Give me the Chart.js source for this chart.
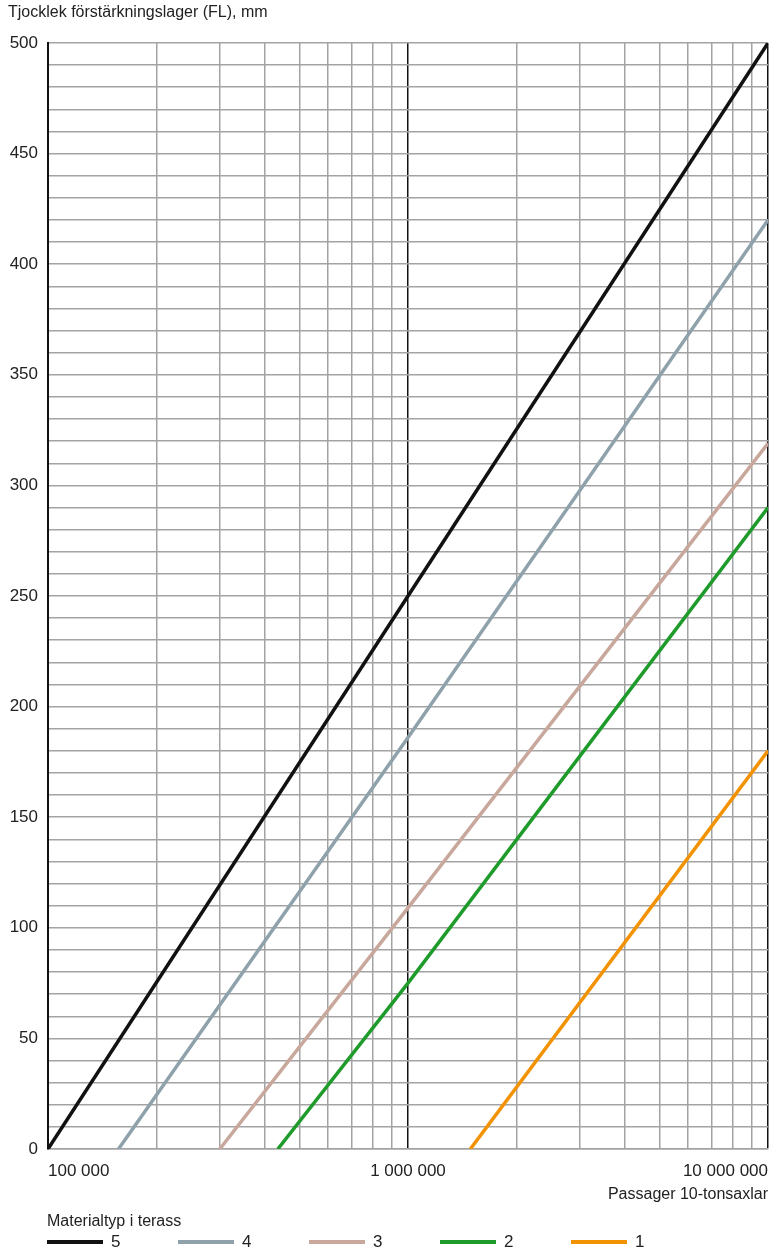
<!DOCTYPE html>
<html>
<head>
<meta charset="utf-8">
<script src="https://cdn.jsdelivr.net/npm/chart.js@4/dist/chart.umd.min.js"></script>
<style>
  body { margin: 0; background: #fff; }
  #wrap { position: relative; width: 784px; height: 1256px; }
  #legend { position: absolute; left: 47px; top: 1212px; font-family: 'Liberation Sans', Arial, sans-serif; font-size: 16px; color: #222; }
  #legend .items { display: flex; margin-top: 2px; font-size: 17px; }
  #legend .item { display: flex; align-items: center; width: 131px; }
  #legend .swatch { width: 56px; height: 4px; margin-right: 8px; }
</style>
</head>
<body>
<div id="wrap">
  <canvas id="lineChart" width="784" height="1256"></canvas>
  <div id="legend"></div>
</div>
<script>
  // material types, legend order
  var seriesNames = ['5', '4', '3', '2', '1'];
  var seriesColors = ['#111111', '#8fa2ac', '#c8a89d', '#1f9b2b', '#f39200'];

  // passages of 10-ton axles (x) and thickness FL in mm (y)
  var type5X = [100000, 1000000, 10000000];
  var type5Y = [0, 250, 500];
  var type4X = [157000, 1000000, 10000000];
  var type4Y = [0, 186, 420];
  var type3X = [300000, 1000000, 10000000];
  var type3Y = [0, 109, 319];
  var type2X = [435000, 1000000, 10000000];
  var type2Y = [0, 75, 290];
  var type1X = [1490000, 10000000];
  var type1Y = [0, 180];

  var xTickValues = [100000, 1000000, 10000000];
  var xTickLabels = ['100 000', '1 000 000', '10 000 000'];

  var fontFamily = "'Liberation Sans', Arial, sans-serif";

  function toPoints(xs, ys) {
    return xs.map(function (x, i) { return { x: x, y: ys[i] }; });
  }

  // grid lines at every 1..9 of each decade
  var xGrid = [];
  for (var d = 100000; d < 10000000; d *= 10) {
    for (var m = 1; m <= 9; m++) xGrid.push(m * d);
  }
  xGrid.push(10000000);

  var allX = [type5X, type4X, type3X, type2X, type1X];
  var allY = [type5Y, type4Y, type3Y, type2Y, type1Y];

  var datasets = seriesNames.map(function (name, i) {
    return {
      label: name,
      data: toPoints(allX[i], allY[i]),
      borderColor: seriesColors[i],
      backgroundColor: seriesColors[i],
      borderWidth: 3.5,
      pointRadius: 0,
      tension: 0,
      fill: false
    };
  });

  // html legend
  var legend = document.getElementById('legend');
  var html = '<div>Materialtyp i terass</div><div class="items">';
  seriesNames.forEach(function (name, i) {
    html += '<div class="item"><span class="swatch" style="background:' + seriesColors[i] + '"></span>' + name + '</div>';
  });
  legend.innerHTML = html + '</div>';

  var ctx = document.getElementById('lineChart').getContext('2d');
  var lineChart = new Chart(ctx, {
    type: 'line',
    data: { datasets: datasets },
    options: {
      responsive: false,
      animation: false,
      devicePixelRatio: 1,
      layout: { padding: { left: 8, right: 16, top: 0, bottom: 0 } },
      plugins: {
        legend: { display: false },
        tooltip: { enabled: false },
        title: {
          display: true,
          text: 'Tjocklek förstärkningslager (FL), mm',
          align: 'start',
          color: '#222',
          font: { family: fontFamily, size: 16, weight: 'normal' },
          padding: { top: 3, bottom: 20.8 }
        }
      },
      scales: {
        x: {
          type: 'logarithmic',
          min: 100000,
          max: 10000000,
          afterBuildTicks: function (scale) {
            scale.ticks = xGrid.map(function (v) { return { value: v }; });
          },
          afterFit: function (scale) { scale.height = 107; },
          ticks: {
            autoSkip: false,
            maxRotation: 0,
            align: 'inner',
            padding: 12,
            color: '#222',
            font: { family: fontFamily, size: 17 },
            callback: function (value) {
              var i = xTickValues.indexOf(value);
              return i >= 0 ? xTickLabels[i] : '';
            }
          },
          grid: {
            drawTicks: false,
            color: function (c) {
              return xTickValues.indexOf(c.tick.value) >= 0 ? '#111' : '#a3a3a3';
            },
            lineWidth: 1.5
          },
          border: { color: '#a3a3a3', width: 1.5 },
          title: {
            display: true,
            text: 'Passager 10-tonsaxlar',
            align: 'end',
            color: '#222',
            font: { family: fontFamily, size: 16 },
            padding: { top: 0, bottom: 52 }
          }
        },
        y: {
          min: 0,
          max: 500,
          afterFit: function (scale) { scale.width = 40; },
          ticks: {
            stepSize: 10,
            autoSkip: false,
            padding: 10,
            color: '#222',
            font: { family: fontFamily, size: 17 },
            callback: function (value) {
              return value % 50 === 0 ? value : '';
            }
          },
          grid: { drawTicks: false, color: '#a3a3a3', lineWidth: 1.5 },
          border: { color: '#111', width: 2 }
        }
      }
    }
  });
</script>
</body>
</html>
